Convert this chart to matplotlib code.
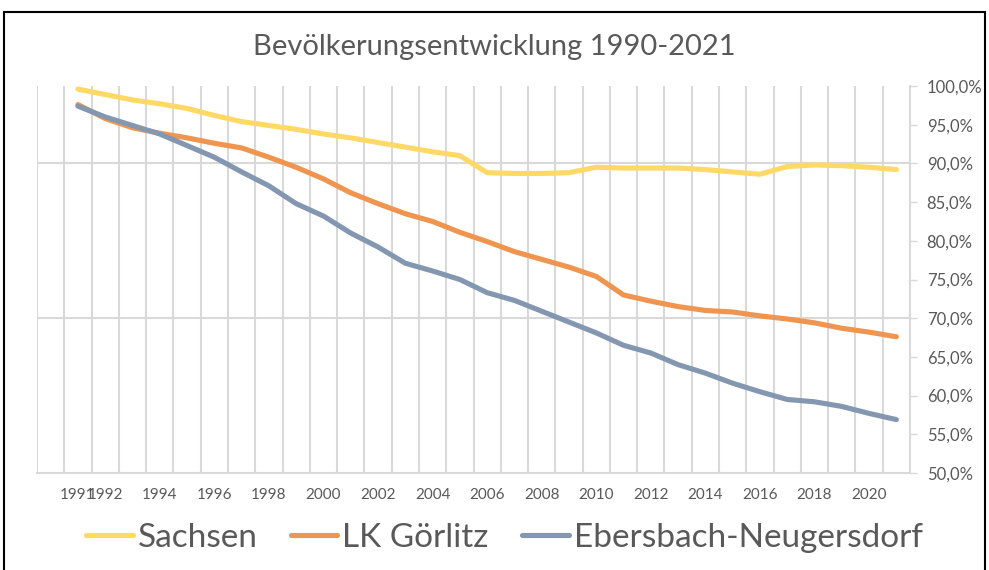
import matplotlib
matplotlib.use('Agg')
import matplotlib.pyplot as plt
from matplotlib.patches import Rectangle
from matplotlib.ticker import FuncFormatter, FixedLocator

plt.rcParams['font.family'] = ['Lato', 'DejaVu Sans']

# data (percent of 1990 population)
years = list(range(1991, 2022))
sachsen = [99.6, 98.9, 98.2, 97.7, 97.1, 96.2, 95.4, 94.9, 94.4, 93.8,
           93.3, 92.7, 92.1, 91.5, 91.0, 88.8, 88.7, 88.7, 88.8, 89.5,
           89.4, 89.4, 89.4, 89.2, 88.9, 88.6, 89.6, 89.8, 89.7, 89.5, 89.2]
lk_goerlitz = [97.6, 95.8, 94.6, 93.9, 93.3, 92.6, 92.0, 90.8, 89.5, 88.0,
               86.2, 84.8, 83.5, 82.5, 81.1, 79.9, 78.6, 77.6, 76.6, 75.4,
               73.0, 72.2, 71.5, 71.0, 70.8, 70.3, 69.9, 69.4, 68.7, 68.2, 67.6]
ebersbach = [97.4, 96.0, 94.9, 93.8, 92.3, 90.8, 88.9, 87.1, 84.8, 83.2,
             81.0, 79.2, 77.1, 76.1, 75.0, 73.3, 72.3, 70.9, 69.5, 68.1,
             66.5, 65.5, 64.0, 62.9, 61.6, 60.5, 59.5, 59.2, 58.6, 57.7, 56.9]
series_names = ['Sachsen', 'LK Görlitz', 'Ebersbach-Neugersdorf']
colors = ['#FFD966', '#F0954F', '#8497B0']
tick_years = [1991] + list(range(1992, 2021, 2))
y_ticks = list(range(50, 101, 5))

W, H = 989, 570
fig = plt.figure(figsize=(W / 100, H / 100), dpi=100)
ax = fig.add_axes([37 / W, 1 - 473 / H, (910 - 37) / W, (473 - 86) / H])

grid_c = '#D9D9D9'
text_c = '#595959'

for vals, c, name in zip([sachsen, lk_goerlitz, ebersbach], colors, series_names):
    ax.plot(years, vals, color=c, lw=3.7, solid_capstyle='round',
            solid_joinstyle='round', label=name, zorder=3)

ax.set_xlim(1989.5, 2021.5)
ax.set_ylim(50, 100)

# vertical gridlines between categories
for b in range(1990, 2023):
    ax.axvline(b - 0.5, color=grid_c, lw=1.5, zorder=1)
# horizontal major gridlines every 20 %
for g in [70, 90]:
    ax.axhline(g, color=grid_c, lw=1.5, zorder=1)

ax.xaxis.set_major_locator(FixedLocator(tick_years))
ax.tick_params(axis='x', length=0, pad=11, labelsize=11, colors=text_c)

ax.yaxis.tick_right()
ax.yaxis.set_major_locator(FixedLocator(y_ticks))
ax.yaxis.set_major_formatter(FuncFormatter(lambda v, p: f'{v:.1f}%'.replace('.', ',')))
ax.tick_params(axis='y', length=5, width=1, color=grid_c, pad=7,
               labelsize=12, labelcolor=text_c)

for s in ['top', 'left']:
    ax.spines[s].set_visible(False)
for s in ['bottom', 'right']:
    ax.spines[s].set_color(grid_c)
    ax.spines[s].set_linewidth(1.5)

fig.text(0.5, 1 - 47 / H, 'Bevölkerungsentwicklung 1990-2021', ha='center', va='center',
         fontsize=21, color=text_c)

fig.legend(loc='center', bbox_to_anchor=(0.51, 1 - 538 / H), ncol=3, frameon=False,
           fontsize=24, labelcolor=text_c, handlelength=1.4, handletextpad=0.15,
           columnspacing=1.0)

fig.patches.append(Rectangle((4 / W, -0.01), (985 - 4) / W, 1 - 12 / H + 0.01,
                             transform=fig.transFigure, fill=False, edgecolor='black',
                             lw=1.5, zorder=0))

fig.savefig('out.png', dpi=100)
